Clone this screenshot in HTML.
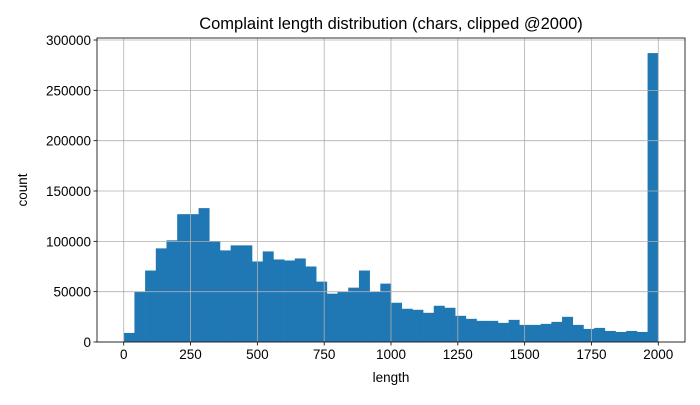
<!DOCTYPE html>
<html><head><meta charset="utf-8"><style>
body{margin:0;background:#fff}
svg text{font-family:"Liberation Sans",sans-serif;fill:#000}
</style></head><body>
<svg id="chart" width="700" height="400" xmlns="http://www.w3.org/2000/svg">
<rect width="700" height="400" fill="#fff"/>
<g id="bars"></g><g id="grid"></g><g id="axes"></g>
</svg>
<script>
const binEdgesStart = 0;
const binWidth = 40;
const counts = [9000,50000,71000,93000,101000,127000,127000,133000,100000,91000,96000,96000,80000,90000,82000,81000,83000,75000,60000,48000,50000,54000,71000,50000,58000,39000,33000,32000,29000,36000,34000,26000,23000,21000,21000,19000,22000,17000,17000,18000,20000,25000,17000,13000,14000,11000,10000,11000,10000,287000];
const xTicks = [0,250,500,750,1000,1250,1500,1750,2000];
const yTicks = [0,50000,100000,150000,200000,250000,300000];
const L=97,R=685,T=38,B=342;
const xMin=-100,xMax=2100,yMax=302000;
const sx=v=>L+(v-xMin)/(xMax-xMin)*(R-L);
const sy=v=>B-v/yMax*(B-T);
const NS="http://www.w3.org/2000/svg";
function mk(tag,attrs,parent){const e=document.createElementNS(NS,tag);for(const k in attrs)e.setAttribute(k,attrs[k]);parent.appendChild(e);return e;}
const grid=document.getElementById('grid'),bars=document.getElementById('bars'),axes=document.getElementById('axes');
xTicks.forEach(t=>{
  const g=mk('line',{x1:sx(t),x2:sx(t),y1:T,y2:B,stroke:'#b0b0b0','stroke-width':0.8},grid);
  
  
  const tk=mk('line',{x1:sx(t),x2:sx(t),y1:B,y2:B+3.5,stroke:'#000','stroke-width':0.8},axes);
  
  
  const tx=mk('text',{x:sx(t),y:B+17,'text-anchor':'middle','font-size':13.5},axes);
  tx.textContent=t;
  
  
});
yTicks.forEach(t=>{
  const g=mk('line',{x1:L,x2:R,y1:sy(t),y2:sy(t),stroke:'#b0b0b0','stroke-width':0.8},grid);
  
  
  const tk=mk('line',{x1:L-3.5,x2:L,y1:sy(t),y2:sy(t),stroke:'#000','stroke-width':0.8},axes);
  
  
  const tx=mk('text',{x:L-6,y:sy(t)+5,'text-anchor':'end','font-size':13.5},axes);
  tx.textContent=t;
  
  
});
counts.forEach((c,i)=>{
  const x0=sx(binEdgesStart+i*binWidth),x1=sx(binEdgesStart+(i+1)*binWidth);
  const r=mk('rect',{x:x0,y:sy(c),width:x1-x0+0.3,height:B-sy(c),fill:'#1f77b4'},bars);
  
  
});
const fr=mk('rect',{x:L,y:T,width:R-L,height:B-T,fill:'none',stroke:'#000','stroke-width':0.8},axes);


const title=mk('text',{x:(L+R)/2,y:29,'text-anchor':'middle','font-size':16.5},axes);
title.textContent='Complaint length distribution (chars, clipped @2000)';


const xl=mk('text',{x:(L+R)/2,y:382,'text-anchor':'middle','font-size':13.5},axes);
xl.textContent='length';


const yl=mk('text',{x:0,y:0,'text-anchor':'middle','font-size':13.5,transform:'translate(27,'+((T+B)/2)+') rotate(-90)'},axes);
yl.textContent='count';


</script>
</body></html>
